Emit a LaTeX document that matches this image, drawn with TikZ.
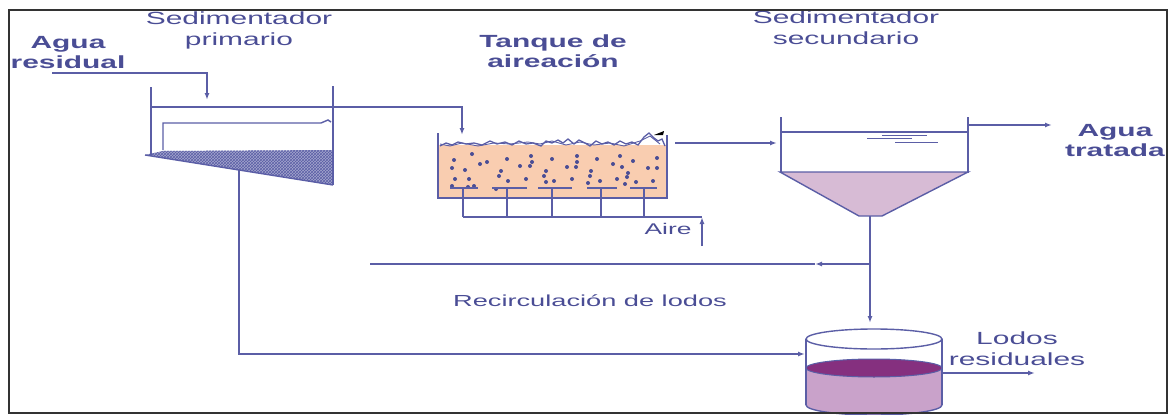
\documentclass[tikz,border=0pt]{standalone}
\usepackage{fontspec}
\setmainfont{Liberation Sans}[FakeStretch=1.7]
\usepackage{tikz}
\usetikzlibrary{arrows.meta,patterns}
\definecolor{lineblue}{HTML}{5B5EA6}
\definecolor{textblue}{HTML}{4A4D95}
\definecolor{peach}{HTML}{F9CDB0}
\definecolor{conefill}{HTML}{D7BBD5}
\definecolor{lodlight}{HTML}{C9A2CA}
\definecolor{loddark}{HTML}{85307F}

\begin{document}
\begin{tikzpicture}[x=1pt,y=-1pt,
  pipe/.style={draw=lineblue,line width=1.4pt},
  wall/.style={draw=lineblue,line width=2pt},
  arr/.style={pipe,-{Latex[length=7pt,width=5pt]}},
  lbl/.style={text=textblue,font=\fontsize{17.6}{21}\selectfont,align=center,inner sep=0pt,anchor=north},
  blbl/.style={lbl,font=\fontsize{17.6}{20}\selectfont\bfseries}
]
\useasboundingbox (0,0) rectangle (1171,415);

% labels
\node[blbl] (aguares) at (68,36.2) {Agua\\residual};
\node[lbl] (sedpri) at (239,11.2) {Sedimentador\\primario};
\node[blbl] (tanque) at (553,34.2) {Tanque de\\aireación};
\node[lbl] (sedsec) at (846,10.2) {Sedimentador\\secundario};
\node[blbl] (aguatra) at (1115,124.2) {Agua\\tratada};
\node[lbl] (lodos) at (1017,331.2) {Lodos\\residuales};
\node[lbl,anchor=base,font=\fontsize{15.5}{18}\selectfont] (aire) at (668,234) {Aire};
\node[lbl,anchor=base,font=\fontsize{16}{19}\selectfont] (recirc) at (590,306) {Recirculación de lodos};

% sedimentador primario
\fill[lineblue!55] (145,155) -- (163,151) -- (333,150) -- (333,185) -- cycle;
\fill[pattern=crosshatch,pattern color=lineblue] (145,155) -- (163,151) -- (333,150) -- (333,185) -- cycle;
\draw[pipe] (145,155) -- (333,185);
\draw[wall] (151,87) -- (151,155);
\draw[wall] (333,86) -- (333,185);
\draw[pipe] (163,150) -- (163,123) -- (321,123) -- (328,120) -- (331,122);
\coordinate (inA) at (52,73);
\coordinate (inB) at (207,73);
\coordinate (psIn) at (207,100);
\draw[arr] (inA) -- (inB) -- (psIn);
\coordinate (psWater) at (151,107);
\coordinate (atTop) at (462,107);
\coordinate (atIn) at (462,135);
\draw[arr] (psWater) -- (atTop) -- (atIn);

% tanque de aireacion
\fill[peach] (438,145) rectangle (667,198);
\foreach \x/\y in {472/154,454/160,452/168,465/170,480/164,487/162,455/179,469/179,452/186,468/187,
  474/186,507/159,501/171,499/176,508/181,526/179,520/166,531/156,532/162,530/166,496/189,546/171,
  544/176,554/181,546/182,552/159,567/167,572/179,577/156,577/162,576/167,591/171,590/176,600/181,
  588/183,597/159,613/164,620/156,622/167,628/173,617/179,627/177,633/161,636/182,648/168,657/168,
  657/158,653/181,625/184}
  \fill[textblue] (\x,\y) circle[radius=2];
\draw[pipe,line width=1.3pt] plot coordinates {(440,146) (446,143) (452,145) (458,142) (466,144)
  (474,143) (482,145) (490,141) (497,144) (505,142) (512,145) (519,141) (526,144) (533,143)
  (541,146) (546,141) (552,143) (558,140) (563,143) (568,139) (574,144) (579,140) (585,143)
  (590,146) (596,141) (602,144) (608,142) (614,145) (620,141) (626,144) (632,142) (638,145)
  (644,137) (649,133) (654,138) (658,141) (662,139) (665,146)};
\draw[pipe,line width=0.9pt] plot coordinates {(440,144) (450,146) (462,143) (478,146) (494,143)
  (510,144) (528,142) (540,144) (552,141) (566,145) (580,142) (594,145) (610,143) (624,146)
  (640,141) (650,136) (660,144)};
\fill[black] (654,135) -- (664,131) -- (663,135) -- cycle;
\draw[wall] (438,133) -- (438,198) -- (667,198) -- (667,135);
\foreach \l/\r/\c in {450/478/463,492/527/507,538/572/552,587/617/601,630/657/644} {
  \draw[pipe] (\l,188) -- (\r,188);
  \draw[pipe] (\c,188) -- (\c,217);
}
\draw[pipe] (463,217) -- (702,217);
\coordinate (airIn) at (702,246);
\coordinate (airTop) at (702,217);
\draw[arr] (airIn) -- (airTop);
\coordinate (atOut) at (675,143);
\coordinate (ssIn) at (777,143);
\draw[arr] (atOut) -- (ssIn);

% sedimentador secundario
\fill[conefill] (780,172) -- (968,172) -- (882,216) -- (859,216) -- cycle;
\draw[pipe] (780,172) -- (968,172) -- (882,216) -- (859,216) -- cycle;
\draw[wall] (781,117) -- (781,172);
\draw[wall] (968,117) -- (968,173);
\draw[pipe] (781,132) -- (968,132);
\draw[pipe,line width=0.8pt] (882,135) -- (927,135);
\draw[pipe,line width=0.8pt] (867,138) -- (912,138);
\draw[pipe,line width=0.8pt] (895,142) -- (938,142);
\coordinate (ssOut) at (968,125);
\coordinate (aguaOut) at (1052,125);
\draw[arr] (ssOut) -- (aguaOut);

% recirculacion y lodos
\coordinate (ssBot) at (870,216);
\coordinate (recJ) at (870,264);
\coordinate (recMid) at (815,264);
\coordinate (recEnd) at (370,264);
\coordinate (cyTop) at (870,323);
\draw[arr] (ssBot) -- (cyTop);
\draw[arr] (recJ) -- (recMid);
\draw[pipe] (recMid) -- (recEnd);
\coordinate (psSl) at (239,170);
\coordinate (slCorner) at (239,354);
\coordinate (cyIn) at (805,354);
\draw[arr] (psSl) -- (slCorner) -- (cyIn);

% tanque de lodos
\fill[lodlight] (806,368) rectangle (942,405);
\fill[lodlight] (874,405) ellipse[x radius=68,y radius=10];
\draw[pipe] (806,405) arc[start angle=180,end angle=0,x radius=68,y radius=10];
\filldraw[fill=loddark,draw=lineblue,line width=1pt] (874,368) ellipse[x radius=68,y radius=9];
\draw[pipe] (874,339) ellipse[x radius=68,y radius=10];
\draw[pipe] (806,339) -- (806,405);
\draw[pipe] (942,339) -- (942,405);
\coordinate (cyOut) at (942,373);
\coordinate (lodOut) at (1035,373);
\draw[arr] (cyOut) -- (lodOut);

\draw[line width=2pt,black!80] (9,10) rectangle (1167,413);
\end{tikzpicture}
\end{document}
